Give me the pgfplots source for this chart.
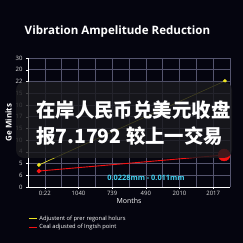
\documentclass[border=0pt]{standalone}
\usepackage{pgfplots}
\pgfplotsset{compat=1.18}
\usepackage{fontspec}
\setmainfont{Open Sans}
\newfontfamily\cjk{Noto Sans CJK SC}
\definecolor{bg}{HTML}{05050F}
\definecolor{gridc}{HTML}{55556E}
\definecolor{ylw}{HTML}{EEE622}
\definecolor{rd}{HTML}{F51212}
\definecolor{cyn}{HTML}{44D2F2}
\definecolor{tickc}{HTML}{E0E0E0}
\definecolor{ovl}{HTML}{1A1A1E}
\begin{document}
\begin{tikzpicture}[x=1bp,y=1bp]
\fill[bg] (0,0) rectangle (243,243);
\begin{axis}[
  at={(28bp,56bp)}, anchor=south west,
  scale only axis, width=202bp, height=129bp,
  xmin=0, xmax=12, ymin=0, ymax=11,
  xtick={1,3,5,7,9,11},
  xticklabels={0:22,1040,739,490,2010,2017},
  minor xtick={0,2,4,6,8,10,12},
  ytick={0,1,2,3,4,5,6,7,8,9,10,11},
  yticklabels={0,6,5,4,10,15,17,10,15,22,20,30},
  grid=both,
  grid style={gridc, line width=0.5pt},
  minor grid style={gridc, line width=0.5pt},
  axis line style={white, line width=0.6pt},
  axis x line*=bottom, axis y line*=left,
  tick style={white},
  tick align=outside,
  major tick length=2bp, minor tick length=0bp,
  ticklabel style={font=\fontsize{6}{7}\selectfont, text=tickc},
  xticklabel style={yshift=1bp},
  /pgf/number format/assume math mode=true,
  xlabel={Months},
  xlabel style={font=\fontsize{7}{8}\selectfont, text=white, yshift=5bp},
  ylabel={Ge Minits},
  ylabel style={font=\bfseries\fontsize{8}{9}\selectfont, text=white, yshift=-3bp},
  legend style={at={(0,-0.205)}, anchor=north west, draw=none, fill=none,
    font=\fontsize{5.8}{6.5}\selectfont, text=white, inner sep=0pt,
    row sep=-1bp, legend cell align=left},
  legend image code/.code={\draw[#1, line width=1.2pt] (0bp,0bp) -- (8bp,0bp);},
  clip=false,
]
\addplot[ylw, line width=0.6pt, mark=*, mark size=1.6pt,
  mark options={fill=ylw, draw=ylw}] coordinates {(0.65,1.88) (11.7,9.04)};
\addlegendentry{Adjustent of prer regonal holurs}
\addplot[rd, line width=0.9pt, mark=*, mark size=1.8pt,
  mark options={fill=rd, draw=rd}] coordinates {(0.65,1.36) (11.65,2.73)};
\addlegendentry{Ceal adjusted of Ingtsh point}
\addplot[rd, only marks, mark=*, mark size=6pt, forget plot] coordinates {(11.65,2.73)};
\end{axis}
\node[text=white, font=\bfseries\fontsize{11.6}{13}\selectfont] at (117.5,212) {Vibration Ampelitude Reduction};
\node[text=cyn, font=\bfseries\fontsize{7.4}{8}\selectfont] at (146,65) {0.0228mm - 0.011mm};
\fill[ovl, opacity=0.82, rounded corners=8bp] (16,85) rectangle (232,161);
\node[anchor=west, text=white, font=\cjk\bfseries\fontsize{19.5}{20}\selectfont, inner sep=0pt] at (36,133) {在岸人民币兑美元收盘};
\node[anchor=west, text=white, font=\cjk\bfseries\fontsize{19.5}{20}\selectfont, inner sep=0pt] at (36,107) {报7.1792 较上一交易};
\pgfresetboundingbox
\useasboundingbox (0,0) rectangle (243,243);
\end{tikzpicture}
\end{document}
